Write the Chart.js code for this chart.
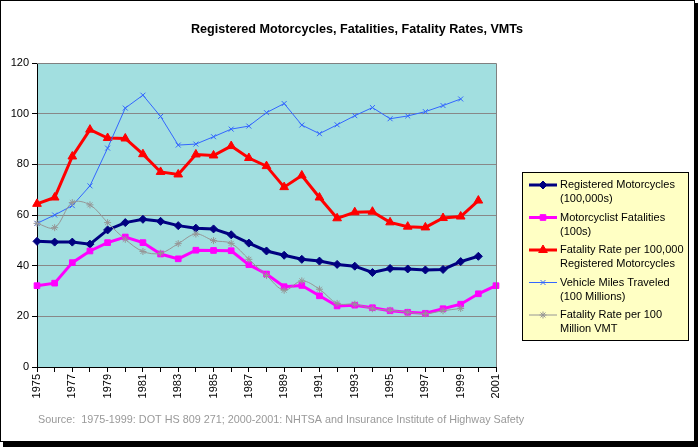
<!DOCTYPE html>
<html>
<head>
<meta charset="utf-8">
<script src="https://cdn.jsdelivr.net/npm/chart.js@4"></script>
<style>
  html, body { margin: 0; padding: 0; background: #fff; }
  #wrap { position: relative; width: 698px; height: 447px; }
</style>
</head>
<body>
<div id="wrap"><canvas id="myChart" width="698" height="447"></canvas></div>
<script>
const years = [];
for (let y = 1975; y <= 2001; y++) years.push(String(y));

// values
const registered = [49.6, 49.3, 49.3, 48.5, 54.1, 57.0, 58.3, 57.5, 55.8, 54.8, 54.5, 52.2, 48.9, 45.8, 44.1, 42.5, 41.8, 40.5, 39.8, 37.3, 38.9, 38.7, 38.3, 38.5, 41.6, 43.7, null];
const fatalities = [32.1, 33.1, 41.2, 45.8, 49.1, 51.3, 49.1, 44.6, 42.7, 46.1, 46.0, 45.9, 40.4, 36.7, 31.7, 32.2, 28.1, 24.1, 24.4, 23.4, 22.2, 21.6, 21.2, 23.0, 24.8, 28.9, 32.1];
const rateReg = [64.4, 66.9, 83.1, 93.7, 90.4, 90.2, 84.0, 77.0, 76.0, 83.9, 83.5, 87.2, 82.5, 79.3, 71.0, 75.6, 66.9, 58.7, 61.1, 61.3, 57.1, 55.4, 55.1, 58.8, 59.4, 65.7, null];
const vmt = [56.7, 60.0, 63.7, 71.5, 86.4, 102.2, 107.3, 98.9, 87.6, 88.0, 90.9, 93.9, 95.1, 100.4, 104.0, 95.5, 92.1, 95.6, 99.2, 102.4, 98.0, 99.1, 100.8, 103.2, 105.8, null, null];
const rateVmt = [56.7, 55.0, 64.9, 64.0, 57.0, 50.4, 45.6, 44.9, 48.7, 52.5, 49.9, 48.8, 42.5, 36.1, 30.3, 34.0, 30.7, 25.1, 24.8, 23.0, 22.4, 21.6, 21.0, 22.2, 23.1, null, null];

const legendText = [
  ['Registered Motorcycles', '(100,000s)'],
  ['Motorcyclist Fatalities', '(100s)'],
  ['Fatality Rate per 100,000', 'Registered Motorcycles'],
  ['Vehicle Miles Traveled', '(100 Millions)'],
  ['Fatality Rate per 100', 'Million VMT']
];

const FONT = '"Liberation Sans", Arial, sans-serif';

const decor = {
  id: 'decor',
  beforeDraw(chart) {
    const ctx = chart.ctx;
    const a = chart.chartArea;
    ctx.save();
    ctx.fillStyle = '#fff';
    ctx.fillRect(0, 0, chart.width, chart.height);
    ctx.fillStyle = '#A2DFE0';
    ctx.fillRect(a.left, a.top, a.right - a.left, a.bottom - a.top);
    ctx.restore();
  },
  afterDatasetsDraw(chart) {
    const ctx = chart.ctx;
    const a = chart.chartArea;
    ctx.save();
    ctx.strokeStyle = '#808080';
    ctx.lineWidth = 1;
    ctx.beginPath();
    ctx.moveTo(a.left, a.top + 0.5);
    ctx.lineTo(a.right + 0.5, a.top + 0.5);
    ctx.lineTo(a.right + 0.5, a.bottom);
    ctx.stroke();
    ctx.restore();
  },
  afterDraw(chart) {
    const ctx = chart.ctx;
    ctx.save();
    // outer frame with shadow
    ctx.fillStyle = '#000';
    ctx.fillRect(695, 3, 3, 444);
    ctx.fillRect(3, 442, 695, 5);
    ctx.strokeStyle = '#000';
    ctx.lineWidth = 1;
    ctx.strokeRect(0.5, 0.5, 694, 441);

    // title
    ctx.fillStyle = '#000';
    ctx.font = 'bold 12.6px ' + FONT;
    ctx.textAlign = 'center';
    ctx.textBaseline = 'middle';
    ctx.fillText('Registered Motorcycles, Fatalities, Fatality Rates, VMTs', 357, 30);

    // source note
    ctx.fillStyle = '#999';
    ctx.font = '10.8px ' + FONT;
    ctx.textAlign = 'left';
    ctx.fillText('Source:  1975-1999: DOT HS 809 271; 2000-2001: NHTSA and Insurance Institute of Highway Safety', 38, 420);

    // legend
    const lx = 522, ly = 172, lw = 166, lh = 168;
    ctx.fillStyle = '#FFFFC4';
    ctx.fillRect(lx, ly, lw, lh);
    ctx.strokeStyle = '#000';
    ctx.lineWidth = 1;
    ctx.strokeRect(lx + 0.5, ly + 0.5, lw, lh);
    ctx.font = '11px ' + FONT;
    chart.data.datasets.forEach((ds, i) => {
      const y0 = ly + 13 + i * 32.5;
      ctx.strokeStyle = ds.borderColor;
      ctx.lineWidth = ds.borderWidth;
      ctx.beginPath();
      ctx.moveTo(lx + 7, y0);
      ctx.lineTo(lx + 35, y0);
      ctx.stroke();
      ctx.fillStyle = ds.borderColor;
      ctx.lineWidth = 1;
      Chart.helpers.drawPoint(ctx, {
        pointStyle: ds.pointStyle,
        radius: ds.pointRadius,
        rotation: 0,
        borderWidth: 1
      }, lx + 21, y0);
      ctx.fillStyle = '#000';
      ctx.textAlign = 'left';
      ctx.fillText(legendText[i][0], lx + 38, y0);
      ctx.fillText(legendText[i][1], lx + 38, y0 + 14);
    });
    ctx.restore();
  }
};

function ds(data, color, width, style, radius, order, tension) {
  return {
    data: data,
    borderColor: color,
    backgroundColor: color,
    pointBackgroundColor: color,
    pointBorderColor: color,
    borderWidth: width,
    pointStyle: style,
    pointRadius: radius,
    pointBorderWidth: 1,
    order: order,
    tension: tension || 0,
    spanGaps: false
  };
}

const chart = new Chart(document.getElementById('myChart').getContext('2d'), {
  type: 'line',
  data: {
    labels: years,
    datasets: [
      ds(registered, '#000080', 3, 'rectRot', 4, 5),
      ds(fatalities, '#FF00FF', 3, 'rect', 4, 4),
      ds(rateReg, '#FF0000', 3, 'triangle', 5, 3),
      ds(vmt, '#3366FF', 1, 'crossRot', 3.5, 2),
      ds(rateVmt, '#969696', 1, 'star', 3.5, 1, 0.35)
    ]
  },
  options: {
    responsive: false,
    animation: false,
    events: [],
    layout: { padding: { left: 0, right: 202, top: 63, bottom: 0 } },
    plugins: { legend: { display: false }, tooltip: { enabled: false }, title: { display: false } },
    scales: {
      x: {
        type: 'category',
        offset: false,
        afterFit(s) { s.height = 80; },
        grid: { display: true, drawOnChartArea: false, tickLength: 5, tickColor: '#000' },
        border: { color: '#000', width: 1 },
        ticks: {
          autoSkip: false,
          maxRotation: 90,
          minRotation: 90,
          color: '#000',
          font: { family: FONT, size: 11 },
          padding: 2,
          callback(v, i) { return i % 2 === 0 ? years[i] : ''; }
        }
      },
      y: {
        min: 0,
        max: 120,
        afterFit(s) { s.width = 37; },
        grid: { color: '#888', tickLength: 5, tickColor: '#000' },
        border: { color: '#000', width: 1 },
        ticks: {
          stepSize: 20,
          color: '#000',
          font: { family: FONT, size: 11 },
          padding: 3
        }
      }
    }
  },
  plugins: [decor]
});
</script>
</body>
</html>
